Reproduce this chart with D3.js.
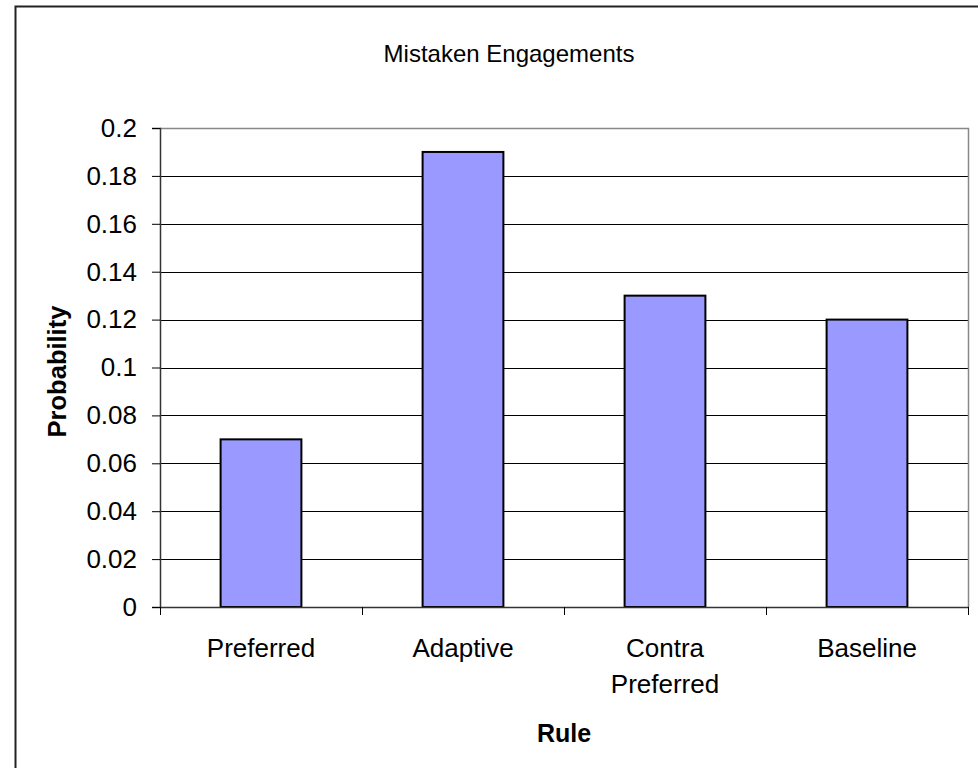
<!DOCTYPE html>
<html>
<head>
<meta charset="utf-8">
<script src="https://cdn.jsdelivr.net/npm/d3@7"></script>
<style>
  html, body { margin: 0; padding: 0; background: #fff; }
  svg { display: block; font-family: "Liberation Sans", Arial, sans-serif; }
</style>
</head>
<body>
<svg id="chart" width="978" height="768"></svg>
<script>
// Chart data
const categories = [["Preferred"], ["Adaptive"], ["Contra", "Preferred"], ["Baseline"]];
const categoryKeys = ["Preferred", "Adaptive", "Contra Preferred", "Baseline"];
const values = [0.07, 0.19, 0.13, 0.12];
const yTicks = [0, 0.02, 0.04, 0.06, 0.08, 0.1, 0.12, 0.14, 0.16, 0.18, 0.2];
const titleText = "Mistaken Engagements";
const xTitle = "Rule";
const yTitle = "Probability";

const svg = d3.select("#chart");
const W = 978, H = 768;

// Outer chart frame (runs off the right and bottom edges)
svg.append("rect")
  .attr("x", 15.5).attr("y", 6.5)
  .attr("width", W + 20).attr("height", H + 20)
  .attr("fill", "#fff").attr("stroke", "#222").attr("stroke-width", 2);

const plot = { left: 160, top: 128, right: 968, bottom: 607 };

const x = d3.scaleBand()
  .domain(categoryKeys)
  .range([plot.left, plot.right])
  .paddingInner(0.6).paddingOuter(0.3);

const y = d3.scaleLinear().domain([0, 0.2]).range([plot.bottom, plot.top]);

// Horizontal gridlines
svg.append("g").selectAll("line")
  .data(yTicks.filter(t => t > 0 && t < 0.2))
  .join("line")
  .attr("x1", plot.left).attr("x2", plot.right)
  .attr("y1", d => Math.round(y(d)) + 0.5).attr("y2", d => Math.round(y(d)) + 0.5)
  .attr("stroke", "#000").attr("stroke-width", 1);

// Plot area border (top and right)
svg.append("path")
  .attr("d", `M${plot.left},${plot.top + 0.5}H${plot.right + 0.5}V${plot.bottom}`)
  .attr("fill", "none").attr("stroke", "#888").attr("stroke-width", 1.5);

// Bars
svg.append("g").selectAll("rect")
  .data(values)
  .join("rect")
  .attr("x", (d, i) => x(categoryKeys[i]))
  .attr("width", x.bandwidth())
  .attr("y", d => y(d))
  .attr("height", d => y(0) - y(d))
  .attr("fill", "#9999FF")
  .attr("stroke", "#000").attr("stroke-width", 2);

// Y axis
const yAxis = d3.axisLeft(y).tickValues(yTicks).tickSize(8).tickPadding(15)
  .tickFormat(d => d3.format("~g")(d));
const yg = svg.append("g").attr("transform", `translate(${plot.left},0)`).call(yAxis);
yg.select(".domain").attr("stroke", "#333").attr("stroke-width", 1.5);
yg.selectAll(".tick line").attr("stroke", "#000");
yg.selectAll(".tick text").attr("font-size", 26).attr("fill", "#000")
  .attr("font-family", "Liberation Sans, Arial, sans-serif");

// X axis: boundary ticks between categories
const boundaries = d3.range(categoryKeys.length + 1).map(i => plot.left + i * (plot.right - plot.left) / categoryKeys.length);
svg.append("line")
  .attr("x1", plot.left).attr("x2", plot.right + 1)
  .attr("y1", plot.bottom + 0.5).attr("y2", plot.bottom + 0.5)
  .attr("stroke", "#333").attr("stroke-width", 1.5);
svg.append("g").selectAll("line")
  .data(boundaries)
  .join("line")
  .attr("x1", d => Math.round(d) + 0.5).attr("x2", d => Math.round(d) + 0.5)
  .attr("y1", plot.bottom).attr("y2", plot.bottom + 8)
  .attr("stroke", "#000");

// Category labels
const labels = svg.append("g").attr("font-size", 26).attr("fill", "#000").attr("text-anchor", "middle");
categories.forEach((lines, i) => {
  const cx = x(categoryKeys[i]) + x.bandwidth() / 2;
  const t = labels.append("text").attr("x", cx).attr("y", 657);
  lines.forEach((ln, j) => {
    t.append("tspan").attr("x", cx).attr("dy", j === 0 ? 0 : 36).text(ln);
  });
});

// Titles
svg.append("text")
  .attr("x", 509).attr("y", 62)
  .attr("text-anchor", "middle").attr("font-size", 24).attr("fill", "#000")
  .text(titleText);

svg.append("text")
  .attr("x", (plot.left + plot.right) / 2).attr("y", 742)
  .attr("text-anchor", "middle").attr("font-size", 25).attr("font-weight", "bold").attr("fill", "#000")
  .text(xTitle);

svg.append("text")
  .attr("transform", `translate(66,${(plot.top + plot.bottom) / 2 + 4}) rotate(-90)`)
  .attr("text-anchor", "middle").attr("font-size", 25.5).attr("font-weight", "bold").attr("fill", "#000")
  .text(yTitle);
</script>
</body>
</html>
